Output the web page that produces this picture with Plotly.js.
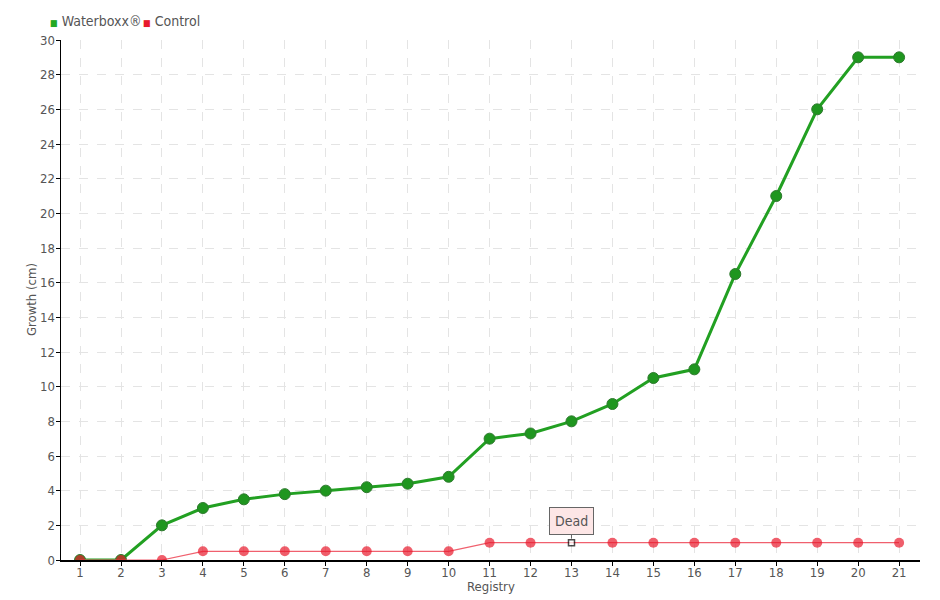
<!DOCTYPE html>
<html>
<head>
<meta charset="utf-8">
<script src="https://cdn.plot.ly/plotly-3.0.1.min.js"></script>
<style>html,body{margin:0;padding:0;background:#fff;}#chart{width:940px;height:600px;}</style>
</head>
<body>
<div id="chart"></div>
<script>
const registry = [1,2,3,4,5,6,7,8,9,10,11,12,13,14,15,16,17,18,19,20,21];
const waterboxx = [0,0,2,3,3.5,3.8,4,4.2,4.4,4.8,7,7.3,8,9,10.5,11,16.5,21,26,29,29];
const control = [0,0,0,0.5,0.5,0.5,0.5,0.5,0.5,0.5,1,1,1,1,1,1,1,1,1,1,1];
const seriesNames = ['Waterboxx®', 'Control'];
const seriesColors = ['#22a822', '#e8192c'];
const deadIndex = 12;
const deadLabel = 'Dead';
const xTitle = 'Registry';
const yTitle = 'Growth (cm)';

const FONT = '"Liberation Sans Narrow", "DejaVu Sans Condensed", sans-serif';

const ctrlSymbols = control.map((v,i)=> i===deadIndex ? 'square' : 'circle');
const ctrlColors = control.map((v,i)=> i===deadIndex ? '#ffffff' : '#e8192c');
const ctrlSizes = control.map((v,i)=> i===deadIndex ? 6 : 10);
const ctrlLineColors = control.map((v,i)=> i===deadIndex ? '#000000' : '#e8192c');
const ctrlLineWidths = control.map((v,i)=> i===deadIndex ? 1.5 : 0);

const traces = [
  {
    x: registry, y: waterboxx, name: seriesNames[0], type: 'scatter', mode: 'lines+markers',
    line: {color: '#22a022', width: 3},
    marker: {symbol: 'circle', color: '#1f961f', size: 11, line: {color: '#2e7a2e', width: 1}}
  },
  {
    x: registry, y: control, name: seriesNames[1], type: 'scatter', mode: 'lines+markers',
    line: {color: '#f0606e', width: 1.2},
    marker: {symbol: ctrlSymbols, color: ctrlColors, size: ctrlSizes, line: {color: ctrlLineColors, width: ctrlLineWidths}}
  }
];

const legendAnn = [
  {x: -0.0155, text: `<span style="color:${seriesColors[0]};font-size:9px">■</span> ${seriesNames[0]}`},
  {x: 0.0935, text: `<span style="color:${seriesColors[1]};font-size:9px">■</span> ${seriesNames[1]}`}
].map(a => ({
  x: a.x, y: 1.0365, xref: 'paper', yref: 'paper', xanchor: 'left', yanchor: 'middle',
  text: a.text, showarrow: false, font: {size: 14, color: '#555'}
}));

const titleAnn = [
  {x: 0.5, y: -0.0505, xref: 'paper', yref: 'paper', xanchor: 'center', yanchor: 'middle',
   text: xTitle, showarrow: false, font: {size: 13, color: '#555'}},
  {x: -0.0349, y: 0.5, xref: 'paper', yref: 'paper', xanchor: 'center', yanchor: 'middle',
   text: yTitle, textangle: -90, showarrow: false, font: {size: 13, color: '#555'}}
];

const layout = {
  width: 940, height: 600,
  margin: {l: 61, r: 20, t: 40, b: 40, autoexpand: false},
  paper_bgcolor: '#fff', plot_bgcolor: '#fff',
  font: {family: FONT, size: 13, color: '#555'},
  showlegend: false,
  xaxis: {
    range: [0.535, 21.51], tickmode: 'array', tickvals: registry, ticktext: registry.map(String),
    showline: true, linecolor: '#000', linewidth: 1.5, ticks: 'outside', ticklen: 4, tickcolor: '#000',
    showgrid: true, gridcolor: '#e4e4e4', griddash: 'dash', gridwidth: 1, zeroline: false,
    tickfont: {size: 13, color: '#555'}, ticklabelstandoff: -4
  },
  yaxis: {
    range: [0, 30], dtick: 2, tick0: 0,
    showline: true, linecolor: '#000', linewidth: 1.5, ticks: 'outside', ticklen: 4, tickcolor: '#000',
    showgrid: true, gridcolor: '#e4e4e4', griddash: 'dash', gridwidth: 1, zeroline: false,
    tickfont: {size: 13, color: '#555'}, ticklabelstandoff: -2
  },
  annotations: legendAnn.concat(titleAnn, [{
    x: registry[deadIndex], y: control[deadIndex], xref: 'x', yref: 'y',
    text: deadLabel, showarrow: true, arrowhead: 0, arrowwidth: 1, arrowcolor: '#666',
    ax: 0, ay: -22, standoff: 4,
    bgcolor: '#fde6e6', bordercolor: '#666', borderwidth: 1, borderpad: 5,
    font: {size: 14, color: '#555'}
  }])
};

Plotly.newPlot('chart', traces, layout, {displayModeBar: false, staticPlot: true});
</script>
</body>
</html>
